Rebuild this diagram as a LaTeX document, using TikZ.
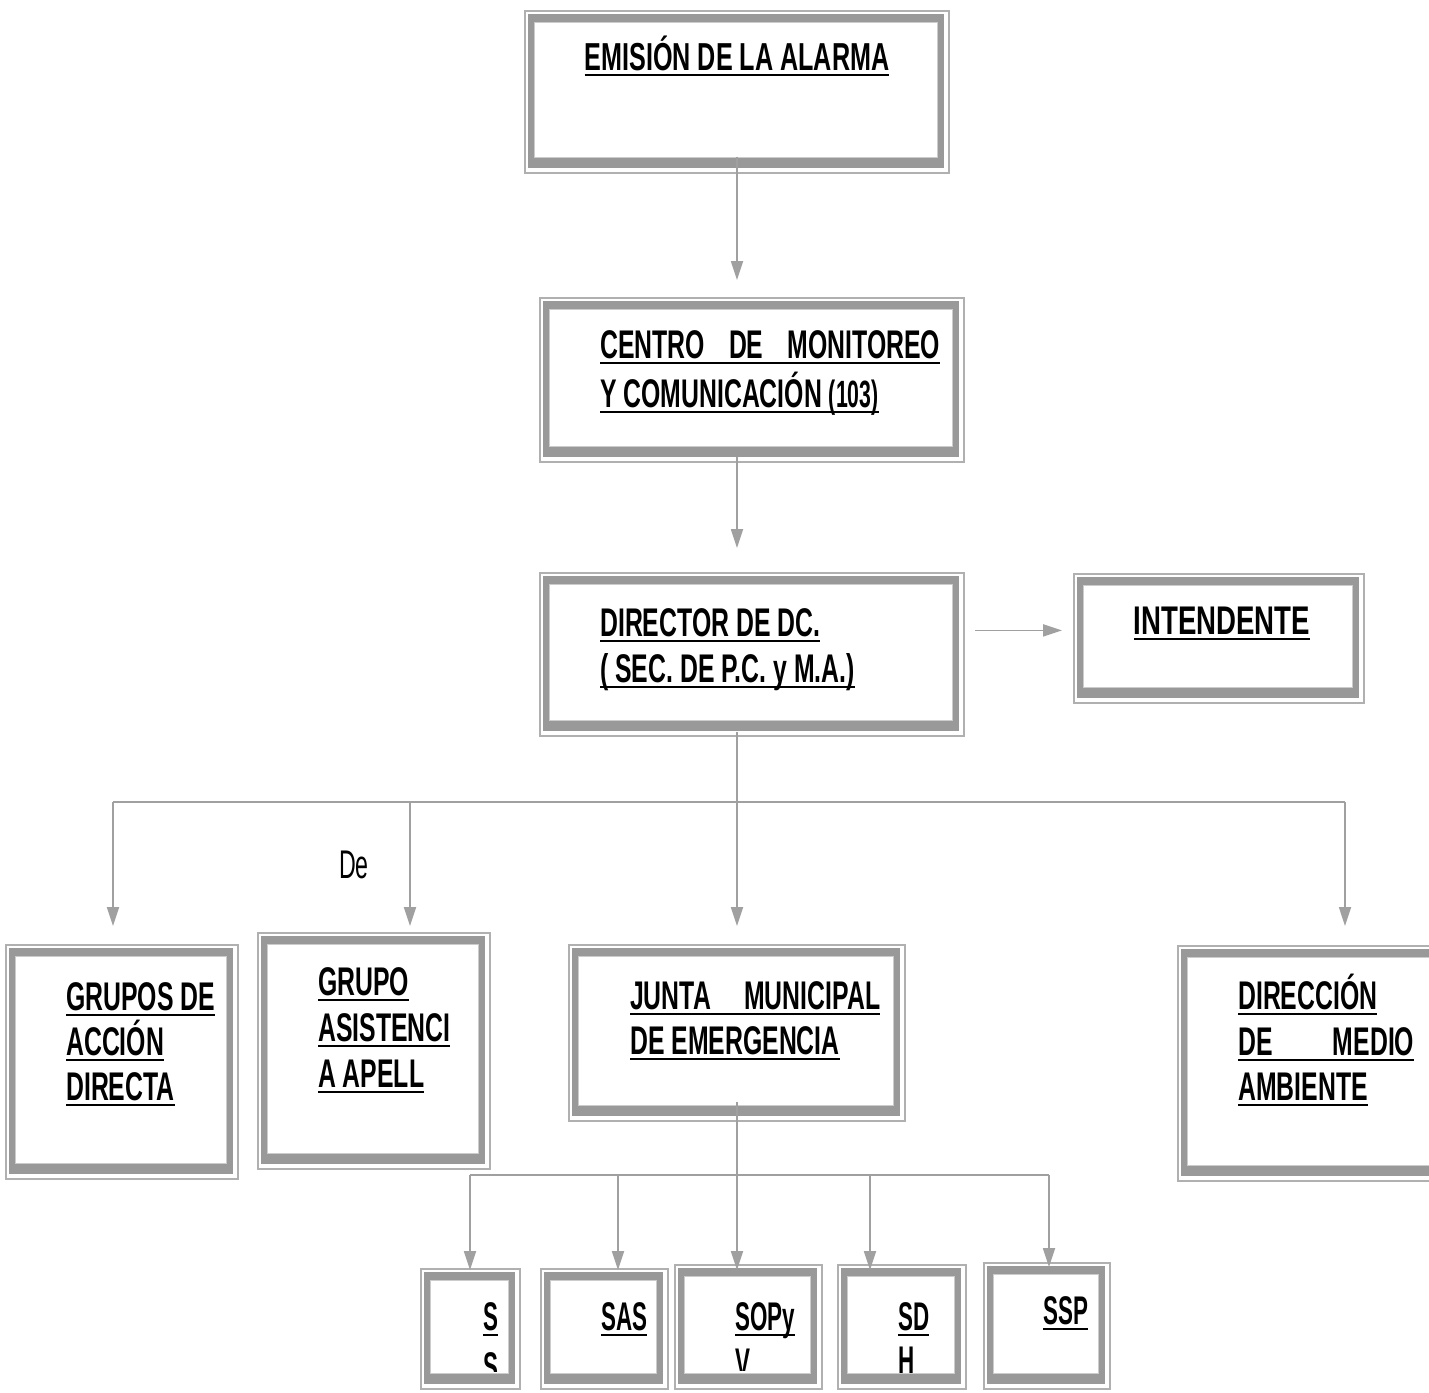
\documentclass[tikz,border=0pt]{standalone}
\usepackage{fontspec}
\setmainfont{Liberation Sans}
\newfontfamily\bxf{Liberation Sans}[FakeStretch=0.62]
\newfontfamily\bxn{Liberation Sans}[FakeStretch=0.56]
\newfontfamily\bxw{Liberation Sans}[FakeStretch=0.69]
\newfontfamily\bxe{Liberation Sans}[FakeStretch=0.645]
\newfontfamily\rgf{Liberation Sans}[FakeStretch=0.58]
\usetikzlibrary{arrows.meta}
\definecolor{bandc}{HTML}{999999}
\definecolor{outc}{HTML}{B0B0B0}
\definecolor{innc}{HTML}{CCCCCC}
\definecolor{conc}{HTML}{A0A0A0}
\newcommand\ulx[1]{\setbox0=\hbox{#1}\rlap{\rule[-6pt]{\wd0}{2.4pt}}\box0}
\newcommand\fancybx[5]{%
  \fill[bandc] ({#2+4},{#3+4}) rectangle ({#4-4},{#5-4});
  \fill[white] ({#2+10},{#3+12}) rectangle ({#4-10},{#5-14});
  \draw[innc, line width=1.4pt] ({#2+10.7},{#3+12.7}) rectangle ({#4-10.7},{#5-14.7});
  \node[outbox, minimum width={#4-#2}, minimum height={#5-#3}, anchor=north west] (#1) at (#2,#3) {};
}
\begin{document}
\begin{tikzpicture}[x=1pt, y=-1pt,
  conn/.style={draw=conc, line width=1.8pt},
  arr/.style={conn, -{Triangle[length=19pt,width=12pt]}},
  outbox/.style={draw=outc, line width=1.8pt, inner sep=0, rectangle},
  tx/.style={anchor=base west, inner sep=0, font=\bxf\bfseries\fontsize{40}{46}\selectfont},
  txc/.style={tx, anchor=base},
  txn/.style={tx, font=\bxn\bfseries\fontsize{40}{46}\selectfont}]
\fill[white] (0,0) rectangle (1429,1392);
\useasboundingbox (0,0) rectangle (1429,1392);

% boxes
\fancybx{b1}{524}{10}{948}{172}
\fancybx{b2}{539}{297}{963}{461}
\fancybx{b3}{539}{572}{963}{735}
\fancybx{b4}{1073}{573}{1363}{702}
\fancybx{b5}{5}{944}{237}{1178}
\fancybx{b6}{257}{932}{489}{1168}
\fancybx{b7}{568}{944}{904}{1120}
\fancybx{b8}{1177}{945}{1445}{1180}
\fancybx{b9}{420}{1268}{519}{1388}
\fancybx{b10}{540}{1268}{667}{1388}
\fancybx{b11}{674}{1264}{821}{1388}
\fancybx{b12}{837}{1264}{965}{1388}
\fancybx{b13}{983}{1262}{1109}{1388}

% texts
\node[txc, font=\bxe\bfseries\fontsize{39}{46}\selectfont] (t1) at (737,70) {\ulx{EMISIÓN DE LA ALARMA}};
\node[tx] (t2a) at (600,358) {\ulx{\makebox[340pt][s]{CENTRO DE MONITOREO}}};
\node[tx] (t2b) at (600,407) {\ulx{Y COMUNICACIÓN {\bxn\bfseries\fontsize{38}{46}\selectfont(103)}}};
\node[tx] (t3a) at (600,636) {\ulx{DIRECTOR DE DC.}};
\node[tx] (t3b) at (600,682) {\ulx{( SEC. DE P.C. y~M.A.)}};
\node[txc, font=\bxw\bfseries\fontsize{40}{46}\selectfont] (t4) at (1222,634) {\ulx{INTENDENTE}};
\node[tx] (t5a) at (66,1010) {\ulx{GRUPOS DE}};
\node[tx] (t5b) at (66,1055) {\ulx{ACCIÓN}};
\node[tx] (t5c) at (66,1100) {\ulx{DIRECTA}};
\node[tx] (t6a) at (318,995) {\ulx{GRUPO}};
\node[tx] (t6b) at (318,1041) {\ulx{ASISTENCI}};
\node[tx] (t6c) at (318,1087) {\ulx{A APELL}};
\node[tx] (t7a) at (630,1009) {\ulx{\makebox[250pt][s]{JUNTA MUNICIPAL}}};
\node[tx] (t7b) at (630,1054) {\ulx{DE EMERGENCIA}};
\node[tx] (t8a) at (1238,1009) {\ulx{DIRECCIÓN}};
\node[tx] (t8b) at (1238,1055) {\ulx{\makebox[176pt][s]{DE MEDIO}}};
\node[tx] (t8c) at (1238,1100) {\ulx{AMBIENTE}};
\begin{scope}
  \clip (430,1280) rectangle (509,1371);
  \node[txn] (t9a) at (483,1330) {\ulx{S}};
  \node[txn] (t9b) at (483,1380) {S};
\end{scope}
\node[txn] (t10) at (601,1330) {\ulx{SAS}};
\begin{scope}
  \clip (684,1276) rectangle (811,1370);
  \node[txn] (t11a) at (735,1330) {\ulx{SOPy}};
  \node[txn] (t11b) at (735,1376) {V};
\end{scope}
\begin{scope}
  \clip (847,1276) rectangle (955,1372);
  \node[txn] (t12a) at (898,1330) {\ulx{SD}};
  \node[txn] (t12b) at (898,1374) {H};
\end{scope}
\node[txn] (t13) at (1043,1324) {\ulx{SSP}};
\node[anchor=base west, inner sep=0, font=\rgf\fontsize{40}{46}\selectfont] (de) at (339,878) {De};

% connectors
\coordinate (ax) at (737,0);
\draw[arr, shorten <=-17pt, shorten >=17pt] (ax |- b1.south) -- (ax |- b2.north);
\draw[arr, shorten <=-6pt, shorten >=24pt] (ax |- b2.south) -- (ax |- b3.north);
\coordinate (h1) at ([xshift=10pt,yshift=24pt]b3.east);
\draw[arr, shorten >=11pt] (h1) -- (h1 -| b4.west);
\coordinate (bus1) at (737,802);
\coordinate (d1) at (113,802);
\coordinate (d2) at (410,802);
\coordinate (d4) at (1345,802);
\draw[conn, shorten <=-5pt] (ax |- b3.south) -- (bus1);
\draw[conn] (d1) -- (d4);
\draw[arr, shorten >=18pt] (d1) -- (d1 |- b5.north);
\draw[arr, shorten >=6pt] (d2) -- (d2 |- b6.north);
\draw[arr, shorten >=18pt] (bus1) -- (bus1 |- b7.north);
\draw[arr, shorten >=19pt] (d4) -- (d4 |- b8.north);
\coordinate (bus2) at (737,1175);
\coordinate (e1) at (470,1175);
\coordinate (e2) at (618,1175);
\coordinate (e4) at (870,1175);
\coordinate (e5) at (1049,1175);
\draw[conn, shorten <=-20pt] (ax |- b7.south) -- (bus2);
\draw[conn] (e1) -- (e5);
\draw[arr, shorten >=-2pt] (e1) -- (e1 |- b9.north);
\draw[arr, shorten >=-2pt] (e2) -- (e2 |- b10.north);
\draw[arr, shorten >=-6pt] (bus2) -- (bus2 |- b11.north);
\draw[arr, shorten >=-6pt] (e4) -- (e4 |- b12.north);
\draw[arr, shorten >=-5pt] (e5) -- (e5 |- b13.north);
\end{tikzpicture}
\end{document}
